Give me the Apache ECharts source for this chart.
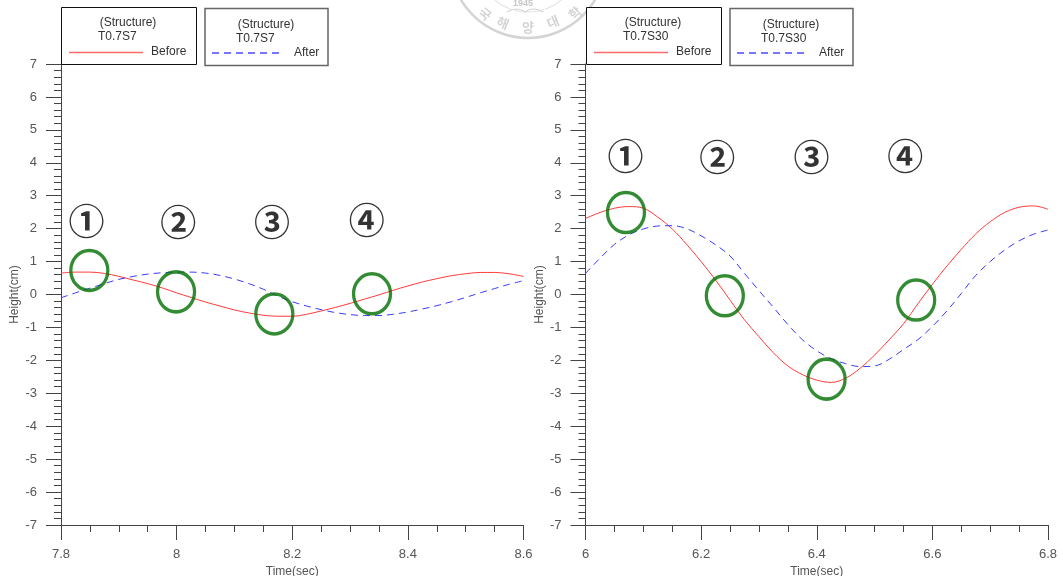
<!DOCTYPE html>
<html><head><meta charset="utf-8">
<script src="https://cdn.jsdelivr.net/npm/echarts@6/dist/echarts.min.js"></script>
<style>html,body{margin:0;padding:0;background:#fff}#c{width:1063px;height:576px}</style>
</head><body><div id="c"></div>
<script>
// ---- data ----
const timeLeft = [7.8,7.825,7.85,7.875,7.9,7.925,7.95,7.975,8,8.025,8.05,8.075,8.1,8.125,8.15,8.175,8.2,8.225,8.25,8.275,8.3,8.325,8.35,8.375,8.4,8.425,8.45,8.475,8.5,8.525,8.55,8.575,8.6];
const beforeLeft = [0.65,0.68,0.68,0.64,0.55,0.44,0.33,0.20,0.05,-0.09,-0.23,-0.35,-0.47,-0.56,-0.63,-0.66,-0.66,-0.60,-0.50,-0.39,-0.27,-0.14,-0.01,0.13,0.26,0.38,0.48,0.57,0.63,0.67,0.67,0.63,0.55];
const afterLeft = [-0.10,0.05,0.19,0.33,0.46,0.55,0.62,0.66,0.68,0.68,0.65,0.58,0.47,0.33,0.16,-0.05,-0.22,-0.35,-0.46,-0.55,-0.61,-0.64,-0.64,-0.60,-0.53,-0.44,-0.34,-0.22,-0.09,0.05,0.18,0.31,0.42];
const timeRight = [6,6.025,6.05,6.075,6.1,6.125,6.15,6.175,6.2,6.225,6.25,6.275,6.3,6.325,6.35,6.375,6.4,6.425,6.45,6.475,6.5,6.525,6.55,6.575,6.6,6.625,6.65,6.675,6.7,6.725,6.75,6.775,6.8];
const beforeRight = [2.31,2.49,2.62,2.67,2.62,2.35,1.99,1.52,1.00,0.44,-0.17,-0.77,-1.28,-1.77,-2.17,-2.43,-2.60,-2.67,-2.54,-2.24,-1.84,-1.38,-0.89,-0.28,0.31,0.86,1.37,1.84,2.21,2.49,2.65,2.69,2.59];
const afterRight = [0.64,1.10,1.52,1.81,1.99,2.08,2.09,2.00,1.78,1.51,1.17,0.64,0.12,-0.39,-0.91,-1.37,-1.71,-1.95,-2.10,-2.19,-2.17,-1.97,-1.67,-1.37,-0.97,-0.50,0.03,0.58,1.00,1.35,1.63,1.83,1.96];

const markerLabels = ['①','②','③','④'];
const labelLeftX = [7.844, 8.003, 8.165, 8.329];
const labelLeftY = [2.21, 2.20, 2.20, 2.24];
const labelRightX = [6.069, 6.228, 6.391, 6.553];
const labelRightY = [4.21, 4.18, 4.18, 4.21];
const ringLeftX = [7.849, 7.999, 8.169, 8.338];
const ringLeftY = [0.73, 0.08, -0.59, 0.02];
const ringRightX = [6.070, 6.241, 6.417, 6.572];
const ringRightY = [2.49, -0.04, -2.57, -0.17];

const xRangeLeft = [7.8, 8.6];
const xRangeRight = [6, 6.8];
const yRange = [-7, 7];
const legendTitle = '(Structure)';
const caseNames = ['T0.7S7', 'T0.7S30'];
const seriesNames = ['Before', 'After'];
const xName = 'Time(sec)';
const yName = 'Height(cm)';

// ---- chart ----
const chart = echarts.init(document.getElementById('c'), null, {renderer: 'canvas'});
const FONT = '"Liberation Sans", Arial, sans-serif';
const AX = '#444';
const RED = '#ff3b3b';
const BLUE = '#3b3bff';
const GREEN = '#006f00';

function xAxisCfg(gi, range) {
  return {
    gridIndex: gi, type: 'value', min: range[0], max: range[1], interval: 0.2,
    axisLine: {show: true, onZero: false, lineStyle: {color: AX, width: 1}},
    axisTick: {show: true, length: 15, lineStyle: {color: AX}},
    minorTick: {show: true, splitNumber: 4, length: 7, lineStyle: {color: AX}},
    splitLine: {show: false},
    axisLabel: {color: '#555', fontSize: 13, fontFamily: FONT, margin: 23, showMinLabel: true, showMaxLabel: true},
    name: xName, nameLocation: 'middle', nameGap: 36,
    nameTextStyle: {color: '#555', fontSize: 12, fontFamily: FONT}
  };
}
function yAxisCfg(gi) {
  return {
    gridIndex: gi, type: 'value', min: yRange[0], max: yRange[1], interval: 1,
    axisLine: {show: true, onZero: false, lineStyle: {color: AX, width: 1}},
    axisTick: {show: true, length: 15, lineStyle: {color: AX}},
    minorTick: {show: true, splitNumber: 5, length: 7, lineStyle: {color: AX}},
    splitLine: {show: false},
    axisLabel: {color: '#555', fontSize: 13, fontFamily: FONT, margin: 24, showMinLabel: true, showMaxLabel: true},
    name: yName, nameLocation: 'middle', nameGap: 40,
    nameTextStyle: {color: '#555', fontSize: 12, fontFamily: FONT}
  };
}
function zip(a, b) { return a.map((v, i) => [v, b[i]]); }
function lineSeries(gi, name, xs, ys, color, dashed) {
  return {
    type: 'line', name: name, xAxisIndex: gi, yAxisIndex: gi,
    data: zip(xs, ys), showSymbol: false, smooth: 0.35, silent: true,
    lineStyle: {color: color, width: 1, type: dashed ? [7, 5] : 'solid'}, z: 3
  };
}
function ringSeries(gi, xs, ys) {
  return {
    type: 'scatter', xAxisIndex: gi, yAxisIndex: gi, silent: true, z: 5,
    data: zip(xs, ys), symbol: 'circle', symbolSize: [37, 40],
    itemStyle: {color: 'rgba(0,0,0,0)', borderColor: GREEN, borderWidth: 3.4}
  };
}
function labelSeries(gi, xs, ys) {
  return {
    type: 'scatter', xAxisIndex: gi, yAxisIndex: gi, silent: true, z: 6,
    data: xs.map((x, i) => ({value: [x, ys[i]], label: {formatter: markerLabels[i]}})),
    symbolSize: 1, itemStyle: {color: 'rgba(0,0,0,0)'},
    label: {show: true, position: 'inside', color: '#000', fontSize: 36, fontWeight: 'bold',
            fontFamily: '"Noto Sans CJK KR", "Noto Sans CJK SC", sans-serif'}
  };
}
function legendGraphics(ox, caseName) {
  const tf = '12px ' + FONT;
  return [
    {type: 'rect', shape: {x: ox + 0.5, y: 7.5, width: 135, height: 57}, style: {fill: '#fff', stroke: '#111', lineWidth: 1}, z: 10},
    {type: 'text', style: {text: legendTitle, x: ox + 67, y: 23, font: tf, fill: '#333', align: 'center', verticalAlign: 'middle'}, z: 11},
    {type: 'text', style: {text: caseName, x: ox + 37, y: 37, font: tf, fill: '#333', align: 'left', verticalAlign: 'middle'}, z: 11},
    {type: 'line', shape: {x1: ox + 8, y1: 52.5, x2: ox + 82, y2: 52.5}, style: {stroke: '#ff6b6b', lineWidth: 1.5}, z: 11},
    {type: 'text', style: {text: seriesNames[0], x: ox + 90, y: 52, font: tf, fill: '#333', align: 'left', verticalAlign: 'middle'}, z: 11},
    {type: 'rect', shape: {x: ox + 144, y: 8.5, width: 123, height: 57}, style: {fill: '#fff', stroke: '#666', lineWidth: 1.5}, z: 10},
    {type: 'text', style: {text: legendTitle, x: ox + 205, y: 24.5, font: tf, fill: '#333', align: 'center', verticalAlign: 'middle'}, z: 11},
    {type: 'text', style: {text: caseName, x: ox + 175, y: 38.5, font: tf, fill: '#333', align: 'left', verticalAlign: 'middle'}, z: 11},
    {type: 'line', shape: {x1: ox + 151, y1: 53, x2: ox + 222, y2: 53}, style: {stroke: '#4a4aff', lineWidth: 1.3, lineDash: [7, 5]}, z: 11},
    {type: 'text', style: {text: seriesNames[1], x: ox + 233, y: 53, font: tf, fill: '#333', align: 'left', verticalAlign: 'middle'}, z: 11}
  ];
}
function sealGraphics() {
  const cx = 528, cy = -40, wm = '#d4d4d4';
  const chars = [['국', 485, 14, -0.69], ['해', 503, 23, -0.39], ['양', 528, 27, 0], ['대', 553, 22, 0.39], ['학', 575, 13, 0.74]];
  const g = [
    {type: 'circle', shape: {cx: cx, cy: cy, r: 78}, style: {fill: 'none', stroke: wm, lineWidth: 2.5}, z: 0, silent: true},
    {type: 'circle', shape: {cx: cx, cy: cy, r: 52}, style: {fill: 'none', stroke: '#e6e6e6', lineWidth: 1.2}, z: 0, silent: true},
    {type: 'text', style: {text: '1945', x: 523, y: 4, font: 'bold 9px ' + FONT, fill: '#c8c8c8', align: 'center', verticalAlign: 'middle'}, z: 0, silent: true},
    {type: 'bezierCurve', shape: {x1: 507, y1: 12, x2: 525, y2: 12, cpx1: 513, cpy1: 8, cpx2: 520, cpy2: 8}, style: {fill: 'none', stroke: wm, lineWidth: 1.2}, z: 0, silent: true},
    {type: 'bezierCurve', shape: {x1: 525, y1: 12, x2: 543, y2: 12, cpx1: 530, cpy1: 8, cpx2: 537, cpy2: 8}, style: {fill: 'none', stroke: wm, lineWidth: 1.2}, z: 0, silent: true}
  ];
  chars.forEach(c => g.push({type: 'text', x: c[1], y: c[2], rotation: c[3],
    style: {text: c[0], x: 0, y: 0, font: 'bold 13px "Noto Sans CJK KR", sans-serif', fill: wm, align: 'center', verticalAlign: 'middle'}, z: 0, silent: true}));
  return g;
}

const option = {
  backgroundColor: '#fff',
  animation: false,
  grid: [
    {left: 61, top: 64, width: 462.5, height: 461, containLabel: false, outerBoundsMode: 'none'},
    {left: 585.5, top: 64, width: 462.5, height: 461, containLabel: false, outerBoundsMode: 'none'}
  ],
  xAxis: [xAxisCfg(0, xRangeLeft), xAxisCfg(1, xRangeRight)],
  yAxis: [yAxisCfg(0), yAxisCfg(1)],
  series: [
    lineSeries(0, seriesNames[0], timeLeft, beforeLeft, RED, false),
    lineSeries(0, seriesNames[1], timeLeft, afterLeft, BLUE, true),
    lineSeries(1, seriesNames[0], timeRight, beforeRight, RED, false),
    lineSeries(1, seriesNames[1], timeRight, afterRight, BLUE, true),
    ringSeries(0, ringLeftX, ringLeftY),
    ringSeries(1, ringRightX, ringRightY),
    labelSeries(0, labelLeftX, labelLeftY),
    labelSeries(1, labelRightX, labelRightY)
  ],
  graphic: [].concat(sealGraphics(), legendGraphics(61, caseNames[0]), legendGraphics(586, caseNames[1]))
};
chart.setOption(option);
</script>
</body></html>
